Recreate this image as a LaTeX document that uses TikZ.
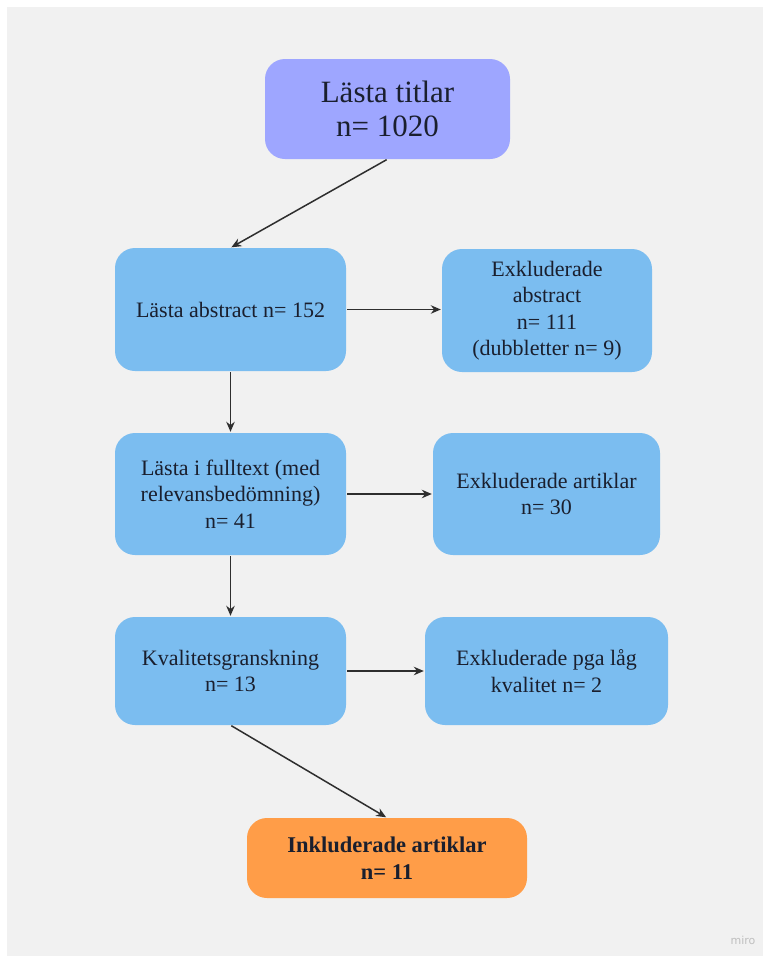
\documentclass[tikz,border=0pt]{standalone}
\usepackage{fontspec}
\setmainfont{Liberation Serif}
\newfontfamily\logofont{DejaVu Sans}
\usetikzlibrary{arrows.meta}
\definecolor{bgGray}{HTML}{F1F1F1}
\definecolor{topLav}{HTML}{9EA6FF}
\definecolor{boxBlue}{HTML}{7BBDF0}
\definecolor{boxOrange}{HTML}{FF9D48}
\definecolor{txtDark}{HTML}{1A1F2E}
\definecolor{arrowDark}{HTML}{2E2E2E}
\tikzset{
  flowbox/.style={rectangle, rounded corners=20pt, fill=boxBlue, draw=none,
    text=txtDark, align=center, inner sep=0pt,
    font=\fontsize{22}{26.5}\selectfont},
  conn/.style={draw=arrowDark, line width=1.5pt,
    -{Stealth[length=10pt,width=8.5pt]}, shorten >=1pt, shorten <=1pt}
}
\begin{document}
\begin{tikzpicture}[x=1pt,y=-1pt]
\useasboundingbox (0,0) rectangle (763,956);
\fill[white] (0,0) rectangle (763,956);
\fill[bgGray] (7,7) rectangle (763,956);

\node[flowbox, fill=topLav, minimum width=245pt, minimum height=100pt,
  font=\fontsize{31}{34}\selectfont] (top) at (387.5,109) {Lästa titlar\\n= 1020};

\node[flowbox, minimum width=231pt, minimum height=123pt] (la) at (230.5,309.5) {Lästa abstract n= 152};
\node[flowbox, minimum width=210pt, minimum height=123pt] (ea) at (547,310.5) {Exkluderade\\abstract\\n= 111\\(dubbletter n= 9)};

\node[flowbox, minimum width=231pt, minimum height=122pt] (lf) at (230.5,494) {Lästa i fulltext (med\\relevansbedömning)\\n= 41};
\node[flowbox, minimum width=227pt, minimum height=122pt] (ef) at (546.5,494) {Exkluderade artiklar\\n= 30};

\node[flowbox, minimum width=231pt, minimum height=108pt] (kv) at (230.5,671) {Kvalitetsgranskning\\n= 13};
\node[flowbox, minimum width=243pt, minimum height=108pt] (ek) at (546.5,671) {Exkluderade pga låg\\kvalitet n= 2};

\node[flowbox, fill=boxOrange, minimum width=280pt, minimum height=80pt,
  font=\bfseries\fontsize{22.5}{27}\selectfont] (inc) at (387,858) {Inkluderade artiklar\\n= 11};

\draw[conn] (top.south) -- (la.north);
\draw[conn] (la.east) -- (la.east -| ea.west);
\draw[conn] (la.south) -- (lf.north);
\draw[conn] (lf.east) -- (ef.west);
\draw[conn] (lf.south) -- (kv.north);
\draw[conn] (kv.east) -- (ek.west);
\draw[conn] (kv.south) -- (inc.north);

\node[text=black!25, font=\logofont\fontsize{11}{11}\selectfont, anchor=center] (logo) at (743,940) {miro};
\end{tikzpicture}
\end{document}
